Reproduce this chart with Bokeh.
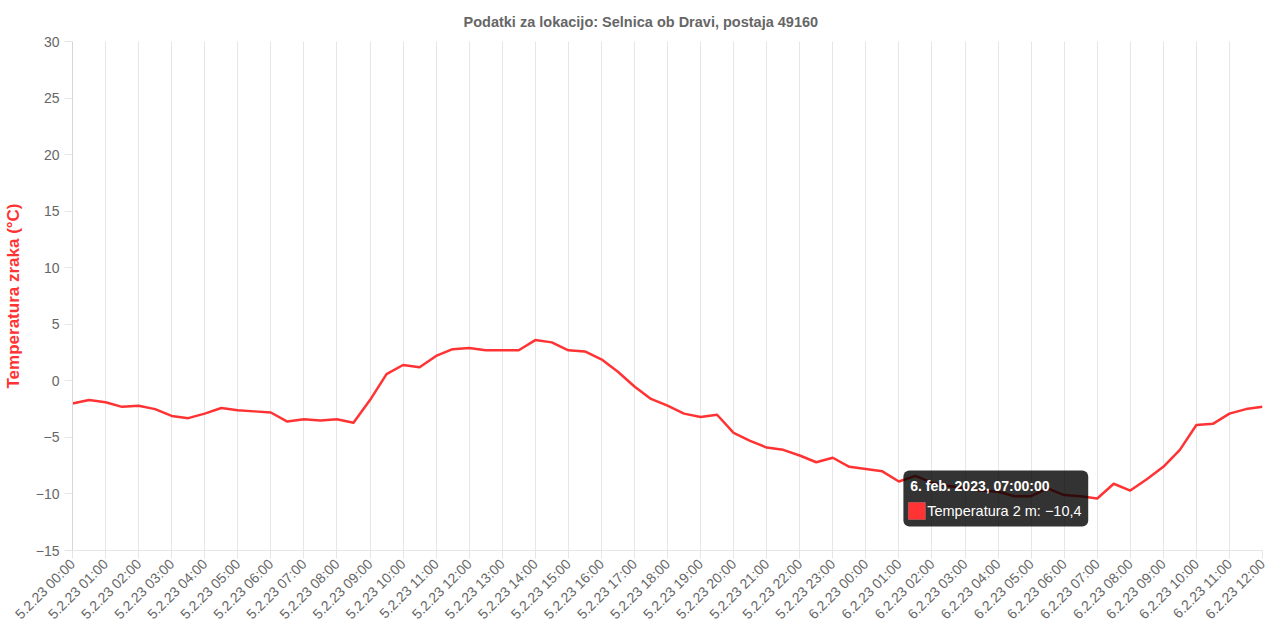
import math
import pandas as pd
from bokeh.plotting import figure
from bokeh.models import Range1d, FixedTicker, Label, BoxAnnotation, ColumnDataSource
from bokeh.embed import file_html
from bokeh.resources import INLINE

# ---------------- data ----------------
times = pd.date_range("2023-02-05 00:00", "2023-02-06 12:00", freq="30min")
temperature = [
    -2.0, -1.7, -1.9, -2.3, -2.2, -2.5, -3.1, -3.3, -2.9, -2.4,
    -2.6, -2.7, -2.8, -3.6, -3.4, -3.5, -3.4, -3.7, -1.7, 0.6,
    1.4, 1.2, 2.2, 2.8, 2.9, 2.7, 2.7, 2.7, 3.6, 3.4,
    2.7, 2.6, 1.9, 0.8, -0.5, -1.6, -2.2, -2.9, -3.2, -3.0,
    -4.6, -5.3, -5.9, -6.1, -6.6, -7.2, -6.8, -7.6,
    -7.8, -8.0, -8.9, -8.4, -9.0, -9.3, -9.5, -9.7, -9.8, -10.2,
    -10.2, -9.5, -10.1, -10.2, -10.4, -9.1, -9.7, -8.7, -7.6, -6.1,
    -3.9, -3.8, -2.9, -2.5, -2.3,
]
tick_times = pd.date_range("2023-02-05 00:00", "2023-02-06 12:00", freq="1h")
tick_labels = [f"{t.day}.{t.month}.{t:%y} {t:%H:%M}" for t in tick_times]
y_ticks = [-15, -10, -5, 0, 5, 10, 15, 20, 25, 30]
y_tick_labels = [str(v).replace("-", "\u2212") for v in y_ticks]
month_names = ["jan.", "feb.", "mar.", "apr.", "maj", "jun.", "jul.", "avg.", "sep.", "okt.", "nov.", "dec."]
tooltip_index = 62  # 6.2.2023 07:00
series_name = "Temperatura 2 m"
title_text = "Podatki za lokacijo: Selnica ob Dravi, postaja 49160"
y_label = "Temperatura zraka (\u00b0C)"

# ---------------- derived ----------------
hours = [(t - times[0]) / pd.Timedelta(hours=1) for t in times]
tick_hours = [(t - times[0]) / pd.Timedelta(hours=1) for t in tick_times]

FONT = "Liberation Sans"
LINE = "#ff3333"
GRID = "#e6e6e6"
TXT = "#666666"

W, H = 1280, 640
ML, MR, MT, MB = 71, 18, 41, 90
fw, fh = W - ML - MR, H - MT - MB

p = figure(width=W, height=H, output_backend="svg", toolbar_location=None,
           x_range=Range1d(hours[0], hours[-1]), y_range=Range1d(-15, 30),
           min_border_left=ML, min_border_right=MR, min_border_top=MT, min_border_bottom=MB)
p.outline_line_color = None
p.background_fill_color = "white"
p.border_fill_color = "white"

p.title.text = title_text
p.title.align = "left"
p.title.offset = 391
p.title.text_font = FONT
p.title.text_font_size = "14.5px"
p.title.text_font_style = "bold"
p.title.text_color = TXT
p.title.standoff = 23

src = ColumnDataSource(dict(x=hours, y=temperature))
p.line("x", "y", source=src, line_color=LINE, line_width=2.5, line_join="round")

# x axis
xa = p.xaxis[0]
xa.ticker = FixedTicker(ticks=tick_hours)
xa.major_label_overrides = {h: lab for h, lab in zip(tick_hours, tick_labels)}
xa.major_label_orientation = math.pi / 4
xa.major_label_text_font = FONT
xa.major_label_text_font_size = "14px"
xa.major_label_text_color = TXT
xa.major_tick_in = 0
xa.major_tick_out = 8
xa.major_tick_line_color = GRID
xa.minor_tick_line_color = None
xa.axis_line_color = GRID
xa.major_label_standoff = 3

# y axis
ya = p.yaxis[0]
ya.ticker = FixedTicker(ticks=y_ticks)
ya.major_label_overrides = {v: lab for v, lab in zip(y_ticks, y_tick_labels)}
ya.major_label_text_font = FONT
ya.major_label_text_font_size = "14px"
ya.major_label_text_color = TXT
ya.major_tick_in = 0
ya.major_tick_out = 8
ya.major_tick_line_color = GRID
ya.minor_tick_line_color = None
ya.axis_line_color = "#d6d6d6"
ya.major_label_standoff = 5
ya.axis_label = y_label
ya.axis_label_text_font = FONT
ya.axis_label_text_font_size = "17px"
ya.axis_label_text_font_style = "bold"
ya.axis_label_text_color = LINE
ya.axis_label_standoff = 10

p.xgrid.grid_line_color = GRID
p.xgrid.grid_line_width = 1
p.ygrid.grid_line_color = None

# ---------------- tooltip ----------------
hx = (hours[-1] - hours[0]) / fw   # hours per pixel
vy = 45 / fh                       # degrees per pixel
tx = hours[tooltip_index]
tv = temperature[tooltip_index]
tt = times[tooltip_index]

box = BoxAnnotation(left=tx - 194 * hx, right=tx - 9 * hx,
                    top=tv + 28 * vy, bottom=tv - 28 * vy,
                    fill_color="black", fill_alpha=0.8, line_color=None,
                    border_radius=6)
p.add_layout(box)

swatch = BoxAnnotation(left=tx - 189 * hx, right=tx - 172 * hx,
                       top=tv - 4 * vy, bottom=tv - 21 * vy,
                       fill_color=LINE, fill_alpha=1.0, line_color="#ff9999", line_width=1)
p.add_layout(swatch)

head = f"{tt.day}. {month_names[tt.month - 1]} {tt.year}, {tt:%H:%M:%S}"
p.add_layout(Label(x=tx, y=tv, x_offset=-187, y_offset=12, text=head,
                   text_font=FONT, text_font_size="14px", text_font_style="bold",
                   text_color="white", text_baseline="middle", text_align="left"))
val = f"{tv:.1f}".replace(".", ",").replace("-", "\u2212")
p.add_layout(Label(x=tx, y=tv, x_offset=-170, y_offset=-13, text=f"{series_name}: {val}",
                   text_font=FONT, text_font_size="14.5px",
                   text_color="white", text_baseline="middle", text_align="left"))

open("out.html", "w").write(file_html(p, INLINE))
